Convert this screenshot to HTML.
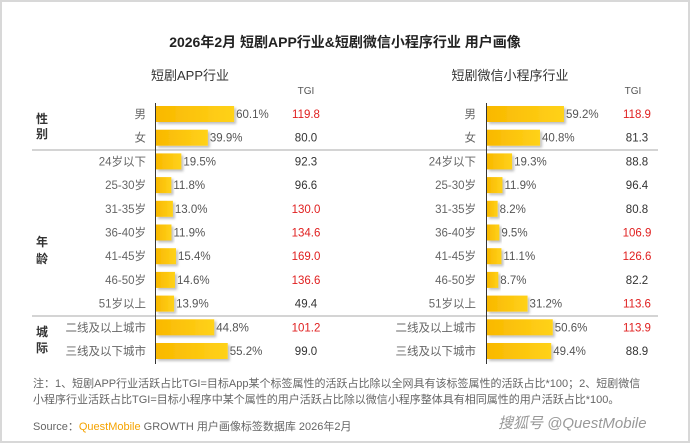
<!DOCTYPE html><html><head><meta charset="utf-8"><style>body{margin:0;background:#fff}svg{display:block}text{font-family:"Liberation Sans","Noto Sans CJK SC",sans-serif}</style></head><body>
<svg width="690" height="443" viewBox="0 0 690 443">
<defs><linearGradient id="g" x1="0" x2="1"><stop offset="0" stop-color="#f9b800"/><stop offset="1" stop-color="#ffd21a"/></linearGradient>
<filter id="s" x="-10%" y="-20%" width="130%" height="160%"><feDropShadow dx="2" dy="2" stdDeviation="1.2" flood-color="#000" flood-opacity="0.25"/></filter></defs>
<rect x="1" y="1" width="688" height="441" fill="#fff" stroke="#d8d8d8" stroke-width="2"/>
<text x="345" y="47" text-anchor="middle" font-size="14" font-weight="bold" fill="#222">2026年2月 短剧APP行业&amp;短剧微信小程序行业 用户画像</text>
<text x="190" y="80" text-anchor="middle" font-size="13" fill="#333">短剧APP行业</text>
<text x="510" y="80" text-anchor="middle" font-size="13" fill="#333">短剧微信小程序行业</text>
<text x="306" y="94" text-anchor="middle" font-size="10" fill="#555">TGI</text>
<text x="633" y="94" text-anchor="middle" font-size="10" fill="#555">TGI</text>
<line x1="32" y1="150" x2="658" y2="150" stroke="#aaa"/>
<line x1="32" y1="316" x2="658" y2="316" stroke="#aaa"/>
<line x1="155.5" y1="103" x2="155.5" y2="364" stroke="#333"/>
<line x1="486.5" y1="103" x2="486.5" y2="364" stroke="#333"/>
<g font-size="12" font-weight="bold" fill="#333"><text x="36" y="123">性</text><text x="36" y="138">别</text><text x="36" y="246">年</text><text x="36" y="263">龄</text><text x="36" y="336">城</text><text x="36" y="352">际</text></g>
<g id="rows" font-size="11.5"></g>
</svg>
<script>
var L=["男","女","24岁以下","25-30岁","31-35岁","36-40岁","41-45岁","46-50岁","51岁以上","二线及以上城市","三线及以下城市"];
var A=[[60.1,"119.8",1],[39.9,"80.0"],[19.5,"92.3"],[11.8,"96.6"],[13.0,"130.0",1],[11.9,"134.6",1],[15.4,"169.0",1],[14.6,"136.6",1],[13.9,"49.4"],[44.8,"101.2",1],[55.2,"99.0"]];
var B=[[59.2,"118.9",1],[40.8,"81.3"],[19.3,"88.8"],[11.9,"96.4"],[8.2,"80.8"],[9.5,"106.9",1],[11.1,"126.6",1],[8.7,"82.2"],[31.2,"113.6",1],[50.6,"113.9",1],[49.4,"88.9"]];
var h="";
function p(d,ax,lx,tx){for(var i=0;i<11;i++){var y=114+23.7*i,w=d[i][0]*1.3;
h+='<text x="'+lx+'" y="'+(y+4)+'" text-anchor="end" fill="#666">'+L[i]+'</text>';
h+='<rect x="'+(ax+1)+'" y="'+(y-8)+'" width="'+w+'" height="16" fill="url(#g)" filter="url(#s)"/>';
h+='<text x="'+(ax+w+3)+'" y="'+(y+4)+'" fill="#555">'+d[i][0].toFixed(1)+'%</text>';
h+='<text x="'+tx+'" y="'+(y+4)+'" text-anchor="middle" fill="'+(d[i][2]?"#e02020":"#333")+'">'+d[i][1]+'</text>';}}
p(A,155,146,306);p(B,486,476,637);
document.getElementById("rows").innerHTML=h;
</script>
<div style="position:absolute;left:33px;top:376px;font:11px 'Liberation Sans','Noto Sans CJK SC',sans-serif;color:#666;line-height:16px;width:618px">注：1、短剧APP行业活跃占比TGI=目标App某个标签属性的活跃占比除以全网具有该标签属性的活跃占比*100；2、短剧微信小程序行业活跃占比TGI=目标小程序中某个属性的用户活跃占比除以微信小程序整体具有相同属性的用户活跃占比*100。</div>
<div style="position:absolute;left:33px;top:418px;font:11px 'Liberation Sans','Noto Sans CJK SC',sans-serif;color:#666">Source：<span style="color:#f5a300">QuestMobile</span> GROWTH 用户画像标签数据库 2026年2月</div>
<div style="position:absolute;left:498px;top:412px;font:italic 15px 'Liberation Sans','Noto Sans CJK SC',sans-serif;color:#999">搜狐号 @QuestMobile</div>
</body></html>
